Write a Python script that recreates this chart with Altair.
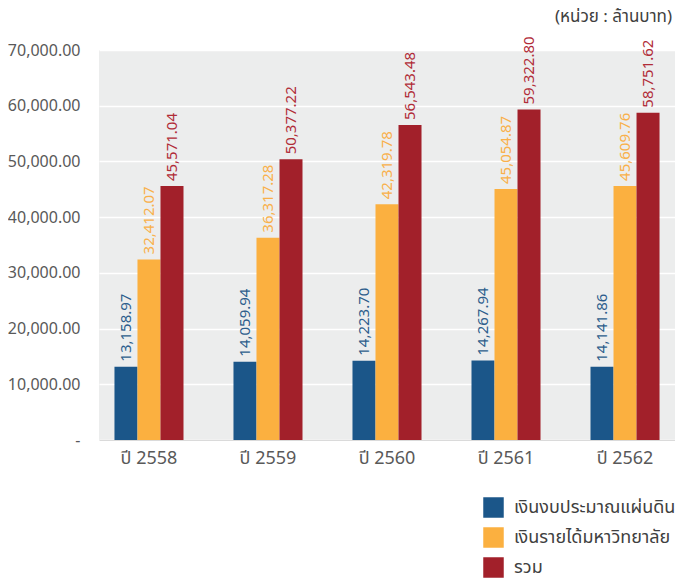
import altair as alt
import pandas as pd

years = ["ปี 2558", "ปี 2559", "ปี 2560", "ปี 2561", "ปี 2562"]
series = ["เงินงบประมาณแผ่นดิน", "เงินรายได้มหาวิทยาลัย", "รวม"]
budget = [13158.97, 14059.94, 14223.70, 14267.94, 13141.86]
budget_labels = ["13,158.97", "14,059.94", "14,223.70", "14,267.94", "14,141.86"]
income = [32412.07, 36317.28, 42319.78, 45054.87, 45609.76]
total = [45571.04, 50377.22, 56543.48, 59322.80, 58751.62]
colors = ["#1B5689", "#FBB040", "#A2202A"]
label_colors = ["#2D5D8C", "#F9B04A", "#B12C38"]

rows = []
for i, y in enumerate(years):
    rows.append({"year": y, "series": series[0], "value": budget[i], "label": budget_labels[i]})
    rows.append({"year": y, "series": series[1], "value": income[i], "label": f"{income[i]:,.2f}"})
    rows.append({"year": y, "series": series[2], "value": total[i], "label": f"{total[i]:,.2f}"})
df = pd.DataFrame(rows)

FONT = "Tahoma, Leelawadee UI, Noto Sans Thai, Loma, Garuda, DejaVu Sans, sans-serif"

x = alt.X("year:N", sort=years, title=None,
          scale=alt.Scale(paddingInner=0.42, paddingOuter=0.13),
          axis=alt.Axis(labelAngle=0, labelFontSize=18, labelColor="#595959", labelPadding=9,
                        ticks=False, domain=True, domainColor="#DADADA", domainWidth=1,
                        labelFont=FONT))
xo = alt.XOffset("series:N", sort=series, scale=alt.Scale(paddingInner=0, paddingOuter=0))
y = alt.Y("value:Q", title=None,
          scale=alt.Scale(domain=[0, 70000], nice=False),
          axis=alt.Axis(values=[0, 10000, 20000, 30000, 40000, 50000, 60000, 70000],
                        labelExpr="datum.value == 0 ? '-\u00a0\u00a0\u00a0' : format(datum.value, ',.2f')",
                        labelFontSize=16, labelColor="#595959", labelPadding=19,
                        ticks=False, domain=False, grid=True, gridColor="#FFFFFF", gridWidth=1.5,
                        labelFont=FONT))

bars = alt.Chart(df).mark_bar().encode(
    x=x, xOffset=xo, y=y,
    color=alt.Color("series:N", sort=series,
                    scale=alt.Scale(domain=series, range=colors),
                    legend=alt.Legend(title=None, orient="none", legendX=384, legendY=447,
                                      symbolType="square", symbolSize=420, symbolStrokeWidth=0,
                                      labelFontSize=18, labelColor="#404040", labelFont=FONT,
                                      rowPadding=9, labelOffset=10, padding=0, labelLimit=300)),
)

texts = alt.Chart(df).mark_text(angle=270, align="left", baseline="middle", dx=5, fontSize=15,
                                font=FONT).encode(
    x=x, xOffset=xo, y=y,
    text="label:N",
    color=alt.Color("series:N", sort=series, scale=alt.Scale(domain=series, range=label_colors),
                    legend=None),
)

chart = alt.layer(bars, texts).resolve_scale(color="independent").properties(
    width=576, height=390,
    autosize=alt.AutoSizeParams(type="none"),
    padding={"left": 91, "top": 42, "right": 0, "bottom": 139},
    title=alt.TitleParams("(หน่วย : ล้านบาท)", anchor="end", fontSize=17, fontWeight="normal",
                          color="#404040", offset=10, dx=-4, font=FONT),
).configure_view(fill="#ECEDED", stroke=None)

chart.save("out.html", embed_options={"renderer": "svg", "actions": False})
